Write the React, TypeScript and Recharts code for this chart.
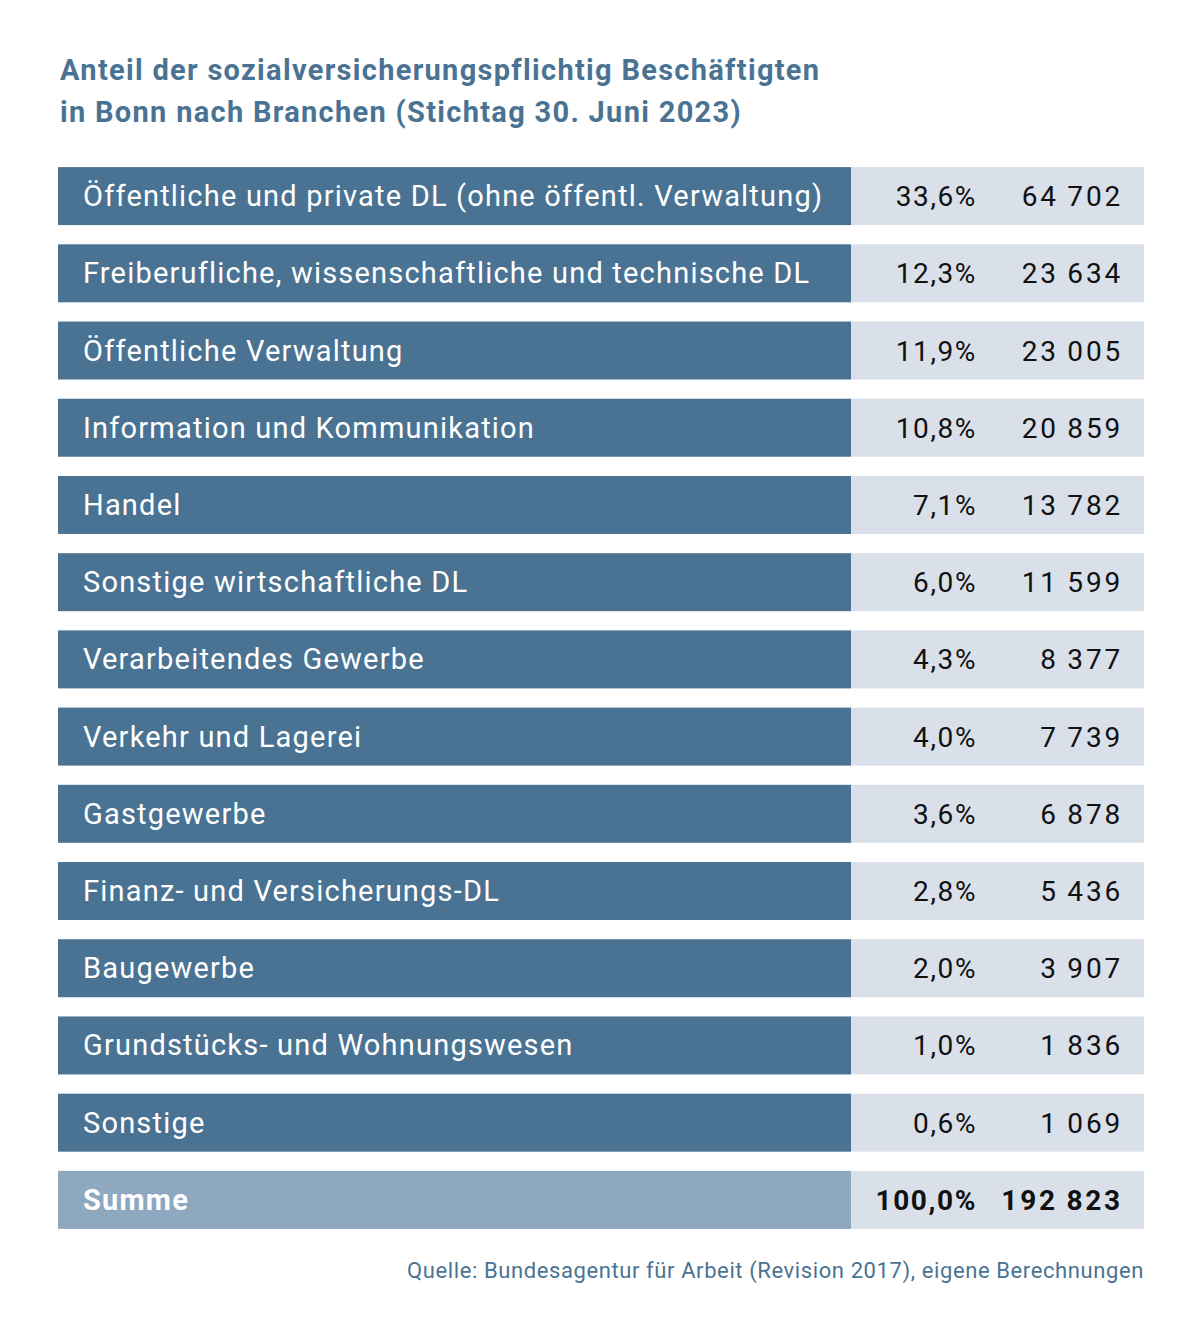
import React from 'react';
import { BarChart, Bar, XAxis, YAxis, Cell } from 'recharts';

// Sozialversicherungspflichtig Beschäftigte in Bonn, 30.06.2023
const branches = [
  'Öffentliche und private DL (ohne öffentl. Verwaltung)',
  'Freiberufliche, wissenschaftliche und technische DL',
  'Öffentliche Verwaltung',
  'Information und Kommunikation',
  'Handel',
  'Sonstige wirtschaftliche DL',
  'Verarbeitendes Gewerbe',
  'Verkehr und Lagerei',
  'Gastgewerbe',
  'Finanz- und Versicherungs-DL',
  'Baugewerbe',
  'Grundstücks- und Wohnungswesen',
  'Sonstige',
  'Summe',
];
const shares = [33.6, 12.3, 11.9, 10.8, 7.1, 6.0, 4.3, 4.0, 3.6, 2.8, 2.0, 1.0, 0.6, 100.0];
const employees = [64702, 23634, 23005, 20859, 13782, 11599, 8377, 7739, 6878, 5436, 3907, 1836, 1069, 192823];

const rows = branches.map((name, i) => ({
  name,
  share: shares[i],
  employees: employees[i],
  total: name === 'Summe',
}));

const DARK = '#4a7393';
const TOTAL = '#8ea8bf';
const LIGHT = '#d9e0ea';
const LABEL_PART = 0.7302;
const VALUE_PART = 1 - LABEL_PART;

const fmtShare = (v: number) => v.toFixed(1).replace('.', ',') + '%';
const fmtCount = (v: number) => String(v).replace(/\B(?=(\d{3})+(?!\d))/g, '\u2009');

const LabelCell = (props: any) => {
  const { x, y, width, height, fill, payload } = props;
  return (
    <g>
      <rect x={x} y={y} width={width} height={height} fill={fill} />
      <text
        x={x + 25}
        y={y + height / 2 + 10}
        fill="#fff"
        fontSize={29}
        letterSpacing={1.2}
        fontWeight={payload.total ? 700 : 400}
        fontFamily="Roboto, sans-serif"
      >
        {payload.name}
      </text>
    </g>
  );
};

const ValueCell = (props: any) => {
  const { x, y, width, height, payload } = props;
  const weight = payload.total ? 700 : 400;
  return (
    <g>
      <rect x={x} y={y} width={width} height={height} fill={LIGHT} />
      <text x={x + 126} y={y + height / 2 + 10} textAnchor="end" fill="#111" fontSize={28}
        fontWeight={weight} fontFamily="Roboto, sans-serif" letterSpacing={1.6}>
        {fmtShare(payload.share)}
      </text>
      <text x={x + 272} y={y + height / 2 + 10} textAnchor="end" fill="#111" fontSize={28}
        fontWeight={weight} fontFamily="Roboto, sans-serif" letterSpacing={2.8}>
        {fmtCount(payload.employees)}
      </text>
    </g>
  );
};

export default function App() {
  return (
    <div style={{ position: 'absolute', left: 0, top: 0, width: 1203, height: 1339, background: '#fff' }}>
      <div style={{ position: 'absolute', left: 60, top: 49, color: DARK, fontFamily: 'Roboto, sans-serif',
        fontWeight: 700, fontSize: 29, letterSpacing: 1.3, lineHeight: '42px' }}>
        Anteil der sozialversicherungspflichtig Beschäftigten<br />
        in Bonn nach Branchen (Stichtag 30. Juni 2023)
      </div>
      <BarChart
        width={1203}
        height={1250}
        layout="vertical"
        data={rows}
        margin={{ top: 157.5, right: 59, left: 58, bottom: 11.5 }}
        barCategoryGap={9.6}
      >
        <XAxis type="number" hide domain={[0, 1]} />
        <YAxis type="category" dataKey="name" hide />
        <Bar dataKey={() => LABEL_PART} stackId="row" shape={LabelCell} isAnimationActive={false}>
          {rows.map((r, i) => (
            <Cell key={i} fill={r.total ? TOTAL : DARK} />
          ))}
        </Bar>
        <Bar dataKey={() => VALUE_PART} stackId="row" fill={LIGHT} shape={ValueCell} isAnimationActive={false} />
      </BarChart>
      <div style={{ position: 'absolute', right: 59, top: 1258, color: DARK, fontFamily: 'Roboto, sans-serif',
        fontSize: 22, letterSpacing: 0.6 }}>
        Quelle: Bundesagentur für Arbeit (Revision 2017), eigene Berechnungen
      </div>
    </div>
  );
}
